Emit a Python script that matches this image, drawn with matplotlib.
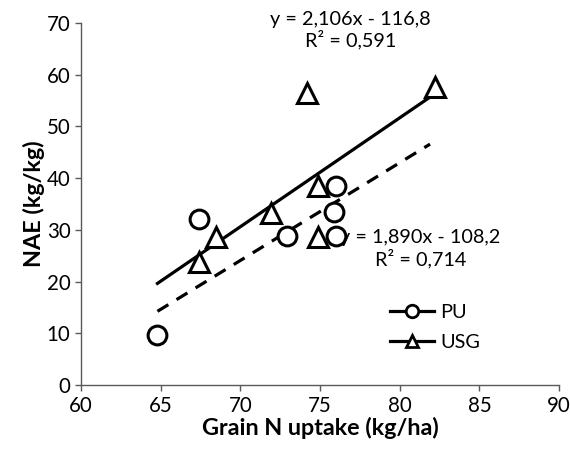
import matplotlib
matplotlib.use("Agg")
import matplotlib.pyplot as plt
import numpy as np
from matplotlib.lines import Line2D

plt.rcParams['font.family'] = ['Lato', 'DejaVu Sans']

# Data
pu_x = [64.8, 67.4, 72.9, 76.0, 75.9, 76.0]
pu_y = [9.7, 32.2, 28.9, 38.5, 33.5, 28.9]
usg_x = [67.4, 68.5, 71.9, 74.2, 74.9, 74.9, 82.2]
usg_y = [23.9, 28.7, 33.2, 56.4, 38.4, 28.7, 57.7]
pu_fit = (1.890, -108.2)
usg_fit = (2.106, -116.8)
usg_range = [64.8, 82.0]
pu_range = [64.8, 81.9]
xticks = [60, 65, 70, 75, 80, 85, 90]
yticks = [0, 10, 20, 30, 40, 50, 60, 70]

fig = plt.figure(figsize=(5.70, 4.51), dpi=100)
ax = fig.add_axes([0.142, 0.146, 0.839, 0.803])

ms = 13.5
mew = 2.2
ax.plot(pu_x, pu_y, linestyle='none', marker='o', ms=ms, mfc='white', mec='black', mew=mew, zorder=4)
ax.plot(usg_x, usg_y, linestyle='none', marker='^', ms=ms + 1, mfc='white', mec='black', mew=mew, zorder=4)

tx = np.array(usg_range)
ax.plot(tx, usg_fit[0] * tx + usg_fit[1], color='black', lw=2.3, zorder=2)
tx2 = np.array(pu_range)
ax.plot(tx2, pu_fit[0] * tx2 + pu_fit[1], color='black', lw=2.3, ls=(0, (4, 3)), zorder=2)

ax.set_xlim(60, 90)
ax.set_ylim(0, 70)
ax.set_xticks(xticks)
ax.set_yticks(yticks)
for s in ['top', 'right']:
    ax.spines[s].set_visible(False)
for s in ['left', 'bottom']:
    ax.spines[s].set_color('#595959')
    ax.spines[s].set_linewidth(1.0)
ax.tick_params(axis='both', direction='out', length=4.5, width=1.0, color='#595959', labelsize=14.8, pad=3)

ax.set_xlabel('Grain N uptake (kg/ha)', fontsize=16.8, fontweight='bold', labelpad=1)
ax.set_ylabel('NAE (kg/kg)', fontsize=16.8, fontweight='bold', labelpad=1)

ax.text(76.9, 68.6, 'y = 2,106x - 116,8\nR² = 0,591', ha='center', va='center', fontsize=14.3,
        linespacing=1.15, zorder=3)
ax.text(81.3, 26.4, 'y = 1,890x - 108,2\nR² = 0,714', ha='center', va='center', fontsize=14.3,
        linespacing=1.15, zorder=3)

handles = [
    Line2D([], [], color='black', lw=2.3, marker='o', ms=9, mfc='white', mec='black', mew=2),
    Line2D([], [], color='black', lw=2.3, marker='^', ms=9, mfc='white', mec='black', mew=2),
]
ax.legend(handles, ['PU', 'USG'], loc='upper left', bbox_to_anchor=(0.646, 0.225), frameon=False,
          fontsize=14.3, handlelength=2.2, handletextpad=0.35, labelspacing=0.65,
          borderpad=0, borderaxespad=0)

fig.savefig('out.png', dpi=100)
